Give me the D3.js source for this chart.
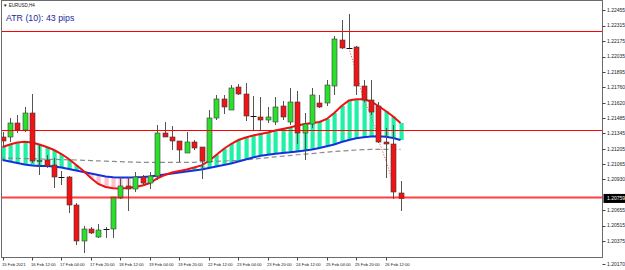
<!DOCTYPE html>
<html><head><meta charset="utf-8">
<script src="https://cdn.jsdelivr.net/npm/d3@7/dist/d3.min.js"></script>
<style>body{margin:0;background:#fff}svg{display:block;font-family:"Liberation Sans",Arial,sans-serif}</style>
</head><body>
<svg id="c" width="625" height="270"></svg>
<script>
// ---- DATA (EURUSD H4, 15 Feb 20:00 .. 26 Feb 20:00) ----
const opens  = [1.21312,1.21312,1.21438,1.21375,1.21528,1.21096,1.21105,1.21060,1.20952,1.20952,1.20700,1.20376,1.20484,1.20412,1.20484,1.20484,1.20763,1.20871,1.20844,1.20952,1.20898,1.20961,1.21348,1.21312,1.21276,1.21168,1.21267,1.21222,1.21087,1.21483,1.21654,1.21555,1.21762,1.21699,1.21501,1.21492,1.21465,1.21447,1.21591,1.21447,1.21627,1.21348,1.21429,1.21618,1.21618,1.21771,1.22185,1.22113,1.22122,1.21771,1.21645,1.21591,1.21267,1.21249,1.20808];
const highs  = [1.21357,1.21483,1.21510,1.21582,1.21699,1.21249,1.21150,1.21123,1.21006,1.20961,1.20718,1.20511,1.20502,1.20529,1.20502,1.20772,1.20952,1.20952,1.20997,1.20970,1.20997,1.21420,1.21447,1.21411,1.21276,1.21357,1.21285,1.21222,1.21555,1.21690,1.21690,1.21780,1.21789,1.21798,1.21681,1.21672,1.21582,1.21672,1.21636,1.21753,1.21726,1.21528,1.21753,1.21690,1.21825,1.22221,1.22365,1.22419,1.22131,1.21825,1.21825,1.21627,1.21393,1.21420,1.20916];
const lows   = [1.21231,1.21267,1.21348,1.21357,1.21078,1.20970,1.21033,1.20853,1.20880,1.20628,1.20340,1.20268,1.20439,1.20403,1.20403,1.20403,1.20754,1.20646,1.20817,1.20880,1.20844,1.20925,1.21312,1.21195,1.21087,1.21168,1.21195,1.20934,1.21087,1.21465,1.21519,1.21555,1.21690,1.21456,1.21375,1.21375,1.21438,1.21420,1.21465,1.21420,1.21249,1.21105,1.21393,1.21573,1.21591,1.21690,1.22104,1.22104,1.21690,1.21627,1.21510,1.21258,1.20943,1.20754,1.20646];
const closes = [1.21276,1.21438,1.21375,1.21528,1.21096,1.21100,1.21051,1.20952,1.20952,1.20700,1.20376,1.20484,1.20448,1.20475,1.20486,1.20772,1.20871,1.20844,1.20952,1.20898,1.20961,1.21348,1.21312,1.21276,1.21195,1.21267,1.21213,1.21096,1.21483,1.21654,1.21582,1.21753,1.21699,1.21501,1.21498,1.21465,1.21492,1.21582,1.21492,1.21627,1.21348,1.21429,1.21690,1.21582,1.21780,1.22194,1.22113,1.22110,1.21771,1.21645,1.21537,1.21267,1.21249,1.20817,1.20759];

const fastMA = [1.21222,1.21245,1.21263,1.21269,1.21263,1.21245,1.21222,1.21195,1.21159,1.21114,1.21060,1.21006,1.20943,1.20889,1.20862,1.20850,1.20849,1.20853,1.20862,1.20876,1.20898,1.20939,1.20970,1.20993,1.21006,1.21020,1.21038,1.21056,1.21096,1.21150,1.21204,1.21249,1.21285,1.21308,1.21326,1.21339,1.21353,1.21371,1.21384,1.21398,1.21416,1.21429,1.21438,1.21447,1.21474,1.21528,1.21591,1.21641,1.21651,1.21651,1.21632,1.21591,1.21546,1.21497,1.21438];
const slowMA = [1.21105,1.21092,1.21078,1.21065,1.21056,1.21051,1.21051,1.21047,1.21038,1.21024,1.21011,1.20997,1.20984,1.20970,1.20957,1.20949,1.20948,1.20948,1.20949,1.20952,1.20957,1.20966,1.20975,1.20984,1.20993,1.21002,1.21011,1.21020,1.21033,1.21047,1.21060,1.21074,1.21092,1.21110,1.21128,1.21144,1.21153,1.21161,1.21168,1.21174,1.21182,1.21191,1.21200,1.21213,1.21229,1.21245,1.21267,1.21285,1.21300,1.21310,1.21317,1.21319,1.21314,1.21303,1.21285];
const longMA = [1.21123,1.21121,1.21119,1.21118,1.21116,1.21114,1.21112,1.21110,1.21109,1.21107,1.21105,1.21102,1.21100,1.21097,1.21094,1.21092,1.21090,1.21088,1.21086,1.21084,1.21083,1.21083,1.21083,1.21083,1.21083,1.21083,1.21084,1.21087,1.21090,1.21093,1.21096,1.21099,1.21101,1.21105,1.21112,1.21119,1.21127,1.21133,1.21139,1.21145,1.21152,1.21158,1.21163,1.21170,1.21175,1.21182,1.21186,1.21190,1.21195,1.21198,1.21200,1.21200,1.21201,1.21201,1.21201];
const dottedBars   = [47,48,49,50,51,52,53];
const dottedValues = [1.22113,1.21897,1.21645,1.21510,1.21285,1.21105,1.20898];

const levels = [1.22266,1.21375,1.20772];
const yTicks = [1.22455,1.22315,1.22175,1.22035,1.21895,1.21760,1.21620,1.21485,1.21345,1.21205,1.21065,1.20930,1.20655,1.20515,1.20375,1.20170];
const xTickBars   = [0,4,8,12,16,20,24,28,32,36,40,44,48,52];
const xTickLabels = ["15 Feb 2021","16 Feb 12:00","17 Feb 04:00","17 Feb 20:00","18 Feb 12:00","19 Feb 04:00","19 Feb 20:00","22 Feb 12:00","23 Feb 04:00","23 Feb 20:00","24 Feb 12:00","25 Feb 04:00","25 Feb 20:00","26 Feb 12:00"];

// ---- CHART ----
const plotR = 602.5, plotB = 257.5;
const svg = d3.select("#c");
const x = d3.scaleLinear().domain([0, 54]).range([2.5, 400.5]);
const y = d3.scaleLinear().domain([1.20232, 1.22545]).range([257, 0]);
const bars = d3.range(opens.length);
const xr = i => Math.round(x(i));

svg.append("defs").append("clipPath").attr("id","clip")
  .append("rect").attr("x",1).attr("y",0).attr("width",plotR-1).attr("height",plotB);
const g = svg.append("g").attr("clip-path","url(#clip)");

// histogram stripes between fast and slow MA
g.selectAll("rect.stripe").data(bars).join("rect")
  .attr("x", i => xr(i) - 1.5)
  .attr("width", 4.2)
  .attr("y", i => Math.min(y(fastMA[i]), y(slowMA[i])))
  .attr("height", i => Math.abs(y(fastMA[i]) - y(slowMA[i])))
  .attr("fill", i => fastMA[i] >= slowMA[i] ? "#1ff2a6" : "#ffc2cc");

const line = arr => d3.line().x(i => x(i)).y(i => y(arr[i]))(bars);
g.append("path").attr("d", d3.line().x(i => i === 0 ? 0 : x(i)).y(i => y(longMA[i]))(bars))
  .attr("fill","none").attr("stroke","#8c8c8c").attr("stroke-width",1.2).attr("stroke-dasharray","5,3");
g.append("path").attr("d", line(slowMA)).attr("fill","none").attr("stroke","#1530e0").attr("stroke-width",2);
g.append("path").attr("d", line(fastMA)).attr("fill","none").attr("stroke","#f01010").attr("stroke-width",2);
g.append("path").attr("d", d3.line().x((b) => x(b)).y((b, k) => y(dottedValues[k]))(dottedBars))
  .attr("fill","none").attr("stroke","#ff5050").attr("stroke-width",1).attr("stroke-dasharray","1.2,1.6");

// candles
g.selectAll("line.wick").data(bars).join("line")
  .attr("x1", i => xr(i) + 0.5).attr("x2", i => xr(i) + 0.5)
  .attr("y1", i => y(highs[i])).attr("y2", i => y(lows[i]))
  .attr("stroke","#555").attr("stroke-width",1);
const isDoji = i => Math.abs(opens[i] - closes[i]) < 0.00004;
g.selectAll("rect.body").data(bars.filter(i => !isDoji(i))).join("rect")
  .attr("x", i => xr(i) - 2).attr("width", 5)
  .attr("y", i => y(Math.max(opens[i], closes[i])))
  .attr("height", i => Math.max(1, Math.abs(y(opens[i]) - y(closes[i]))))
  .attr("fill", i => closes[i] > opens[i] ? "#2be02b" : "#f01414")
  .attr("stroke","#3a3a3a").attr("stroke-width",0.6);
g.selectAll("line.doji").data(bars.filter(isDoji)).join("line")
  .attr("x1", i => xr(i) - 2.5).attr("x2", i => xr(i) + 3.5)
  .attr("y1", i => Math.round(y(closes[i])) + 0.5).attr("y2", i => Math.round(y(closes[i])) + 0.5)
  .attr("stroke","#111").attr("stroke-width",1);

// horizontal levels
g.selectAll("line.level").data(levels).join("line")
  .attr("x1", 0).attr("x2", plotR)
  .attr("y1", d => Math.round(y(d)) + 0.5).attr("y2", d => Math.round(y(d)) + 0.5)
  .attr("stroke", "#ff0000")
  .attr("stroke-opacity", (d, k) => k === 2 ? 0.75 : 1)
  .attr("stroke-width", (d, k) => k === 2 ? 2 : 1.2);

// frame
svg.append("rect").attr("x",1.5).attr("y",0.5).attr("width",plotR-1.5).attr("height",plotB-0.5)
  .attr("fill","none").attr("stroke","#6a6a6a").attr("stroke-width",1);

// right axis
const ya = svg.append("g");
ya.selectAll("line").data(yTicks).join("line")
  .attr("x1", plotR).attr("x2", plotR + 3)
  .attr("y1", d => Math.round(y(d)) + 0.5).attr("y2", d => Math.round(y(d)) + 0.5)
  .attr("stroke","#444");
ya.selectAll("text").data(yTicks).join("text")
  .attr("x", plotR + 4.5).attr("y", d => y(d))
  .attr("dy","0.35em").attr("font-size",5).attr("fill","#222")
  .text(d => d.toFixed(5));
// current price marker
const last = closes[closes.length - 1];
ya.append("rect").attr("x", plotR + 1).attr("y", y(last) - 4.5).attr("width", 22).attr("height", 9).attr("fill","#000");
ya.append("text").attr("x", plotR + 4.5).attr("y", y(last)).attr("dy","0.35em")
  .attr("font-size",5).attr("fill","#fff").text(last.toFixed(5));

// bottom axis
const xa = svg.append("g");
xa.selectAll("line").data(xTickBars).join("line")
  .attr("x1", i => xr(i) + 0.5).attr("x2", i => xr(i) + 0.5)
  .attr("y1", plotB).attr("y2", plotB + 3).attr("stroke","#444");
xa.selectAll("text").data(xTickBars).join("text")
  .attr("x", i => xr(i) - 1).attr("y", 266)
  .attr("font-size",4.2).attr("fill","#222")
  .text((i, k) => xTickLabels[k]);

// titles
svg.append("text").attr("x",3).attr("y",7).attr("font-size",4.5).attr("fill","#111").text("▼ EURUSD,H4");
svg.append("text").attr("x",6).attr("y",21).attr("font-size",8.8).attr("fill","#23299c").text("ATR (10): 43 pips");
</script>
</body></html>
